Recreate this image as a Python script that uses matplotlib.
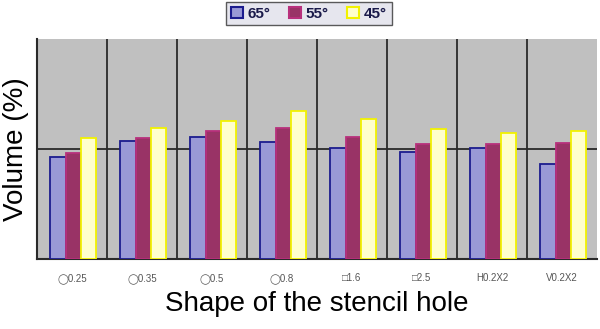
import matplotlib
matplotlib.use("Agg")
import matplotlib.pyplot as plt
import numpy as np
from matplotlib.patches import Patch

categories = ["◯0.25", "◯0.35", "◯0.5", "◯0.8", "□1.6", "□2.5", "H0.2X2", "V0.2X2"]
series_names = ["65°", "55°", "45°"]
v65 = [93.0, 107.3, 111.2, 106.6, 101.2, 97.3, 101.2, 86.4]
v55 = [96.4, 110.3, 116.6, 119.4, 110.9, 104.5, 104.5, 105.7]
v45 = [109.7, 118.8, 125.7, 134.8, 127.0, 118.2, 114.8, 116.6]

faces = ["#9999d6", "#993366", "#ffffcc"]
edges = ["#1c1c8e", "#b8307c", "#f2f200"]

plt.rcParams['font.family'] = ['Liberation Sans', 'DejaVu Sans']
fig = plt.figure(figsize=(6.0, 3.29), dpi=100)
ax = fig.add_axes([37/600, 1-259/329, 560/600, 220/329])
ax.set_facecolor("#c0c0c0")

x = np.arange(len(categories))
w = 0.215
for i, (vals, fc, ec) in enumerate(zip([v65, v55, v45], faces, edges)):
    ax.bar(x + (i - 1) * w + 0.015, vals, width=w, color=fc, edgecolor=ec,
           linewidth=1.3, zorder=3, label=series_names[i])

ax.set_xlim(-0.5, len(categories) - 0.5)
ax.set_ylim(0, 200)
for b in np.arange(0.5, len(categories) - 0.5, 1):
    ax.axvline(b, color="#2a2a2a", lw=1.3, zorder=2)
ax.axhline(100, color="#2a2a2a", lw=1.3, zorder=2)

ax.set_yticks([])
ax.set_xticks(x)
ax.set_xticklabels(categories, fontsize=7, color="#555555")
ax.tick_params(axis='x', length=0, pad=10)
for s in ["top", "right"]:
    ax.spines[s].set_visible(False)
ax.spines["left"].set_color("#2a2a2a")
ax.spines["left"].set_linewidth(1.5)
ax.spines["bottom"].set_color("#2a2a2a")
ax.spines["bottom"].set_linewidth(1.5)

ax.set_ylabel("Volume (%)", fontsize=20, labelpad=6)
ax.set_xlabel("Shape of the stencil hole", fontsize=20, labelpad=5)

handles = [Patch(facecolor=fc, edgecolor=ec, linewidth=1.5) for fc, ec in zip(faces, edges)]
leg = fig.legend(handles, series_names, loc="upper center", bbox_to_anchor=(309/600, 1 - 2/329),
                 ncol=3, frameon=True, fancybox=False,
                 prop={'weight': 'bold', 'size': 11}, handlelength=0.8, handleheight=0.8,
                 handletextpad=0.3, columnspacing=1.2, borderpad=0.3, borderaxespad=0)
leg.get_frame().set_facecolor("#e0e0ea")
leg.get_frame().set_edgecolor("#333333")
for t in leg.get_texts():
    t.set_color("#1a1a4a")

fig.savefig("out.png", dpi=100)
